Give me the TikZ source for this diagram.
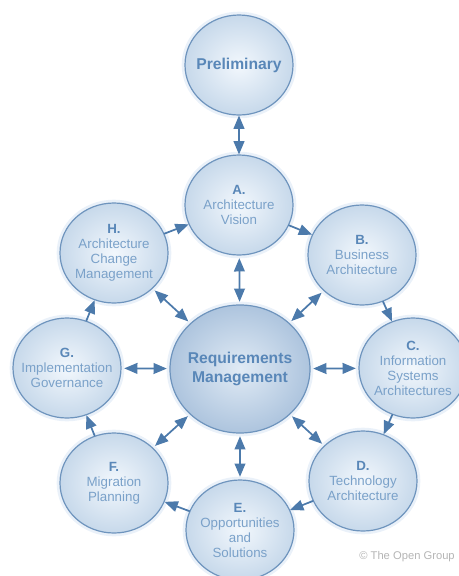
\documentclass[tikz,border=0pt]{standalone}
\usepackage{fontspec}
\setmainfont{Liberation Sans}
\usetikzlibrary{arrows,shapes.geometric}
\definecolor{ggppbb}{rgb}{0.43,0.58,0.74}
\definecolor{ccddee}{rgb}{0.82,0.88,0.95}
\definecolor{eeffff}{rgb}{0.95,0.97,0.99}
\definecolor{bbccdd}{rgb}{0.78,0.85,0.92}
\definecolor{aabbdd}{rgb}{0.68,0.77,0.87}
\definecolor{ddeeff}{rgb}{0.88,0.92,0.96}
\definecolor{ffmmbb}{rgb}{0.35,0.53,0.72}
\definecolor{rrffcc}{rgb}{0.48,0.63,0.79}
\definecolor{eemmaa}{rgb}{0.30,0.48,0.67}
\definecolor{bbbbbb}{rgb}{0.71,0.71,0.71}
\newcommand{\phase}[2]{{\bfseries\color{ffmmbb}#1}\\#2}

\begin{document}
\begin{tikzpicture}[line cap=round,line join=round,>=triangle 45,x=0.75pt,y=-0.75pt,
  halo/.style={preaction={draw=ccddee,line width=5pt,opacity=0.45}},
  phase/.style={ellipse,halo,draw=ggppbb,line width=0.9pt,inner color=eeffff,outer color=bbccdd,
    minimum width=81pt,minimum height=75pt,inner xsep=-10pt,inner ysep=0pt,align=center,text=rrffcc,
    font=\fontsize{10}{11.25}\selectfont},
  hub/.style={phase,inner color=ddeeff,outer color=aabbdd,minimum width=105pt,minimum height=96pt,
    text=ffmmbb,font=\fontsize{11.75}{14}\selectfont\bfseries},
  link/.style={line width=1.3pt,color=eemmaa}]
  \useasboundingbox (0,0) rectangle (458,576);
  \node[phase,text=ffmmbb,font=\fontsize{11.75}{14}\selectfont\bfseries] (prelim) at (239,65) {Preliminary};
  \node[hub] (reqm) at (240,369) {Requirements\\Management};
  \node[phase] (a) at (239,205) {\phase{A.}{Architecture\\Vision}};
  \node[phase] (b) at (362,255) {\phase{B.}{Business\\Architecture}};
  \node[phase] (c) at (413,368) {\phase{C.}{Information\\Systems\\Architectures}};
  \node[phase] (d) at (363,481) {\phase{D.}{Technology\\Architecture}};
  \node[phase] (e) at (240,530) {\phase{E.}{Opportunities\\and\\Solutions}};
  \node[phase] (f) at (114,483) {\phase{F.}{Migration\\Planning}};
  \node[phase] (g) at (67,368) {\phase{G.}{Implementation\\Governance}};
  \node[phase] (h) at (114,253) {\phase{H.}{Architecture\\Change\\Management}};
  % cycle
  \draw [->,link] (h) -- (a);
  \draw [->,link] (a) -- (b);
  \draw [->,link] (b) -- (c);
  \draw [->,link] (c) -- (d);
  \draw [->,link] (d) -- (e);
  \draw [->,link] (e) -- (f);
  \draw [->,link] (f) -- (g);
  \draw [->,link] (g) -- (h);
  % requirements
  \draw [<->,link] (prelim) -- (a);
  \draw [<->,link,shorten >=2pt,shorten <=2pt] (reqm) -- (a);
  \draw [<->,link,shorten >=2pt,shorten <=2pt] (reqm) -- (b);
  \draw [<->,link,shorten >=2pt,shorten <=2pt] (reqm) -- (c);
  \draw [<->,link,shorten >=2pt,shorten <=2pt] (reqm) -- (d);
  \draw [<->,link,shorten >=2pt,shorten <=2pt] (reqm) -- (e);
  \draw [<->,link,shorten >=2pt,shorten <=2pt] (reqm) -- (f);
  \draw [<->,link,shorten >=2pt,shorten <=2pt] (reqm) -- (g);
  \draw [<->,link,shorten >=2pt,shorten <=2pt] (reqm) -- (h);
  \node[anchor=east,text=bbbbbb,font=\fontsize{8.4}{10}\selectfont,inner sep=0pt] (copy) at (455,557) {© The Open Group};
\end{tikzpicture}
\end{document}
